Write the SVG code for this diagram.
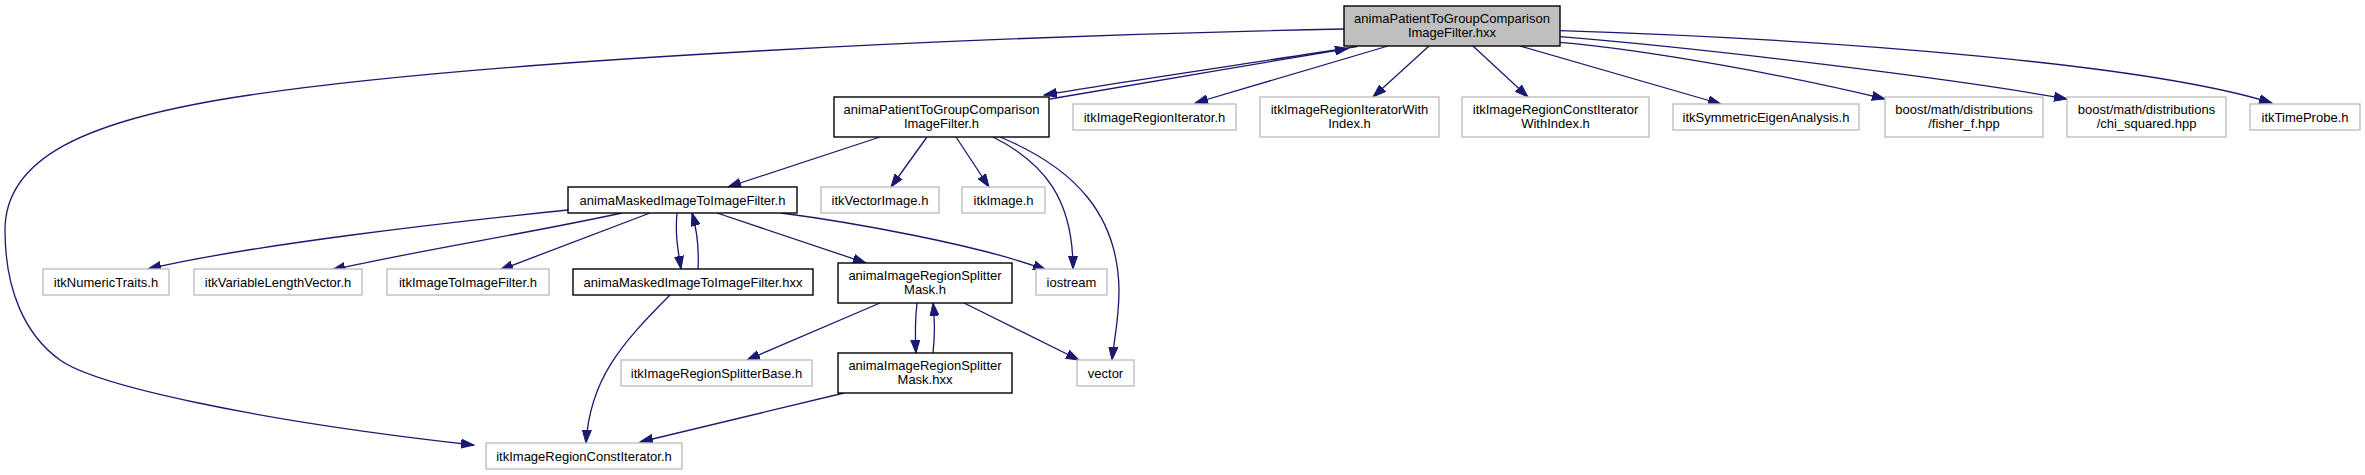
<svg xmlns="http://www.w3.org/2000/svg" width="2365" height="475" viewBox="0 0 2365 475">
<style>
.n rect{fill:#ffffff;stroke:#000000;stroke-width:1.4}
.x rect{fill:#ffffff;stroke:#bfbfbf;stroke-width:1.4}
.r rect{fill:#bfbfbf;stroke:#000000;stroke-width:1.4}
text{font-family:"Liberation Sans",Arial,sans-serif;font-size:13px;fill:#000000;text-anchor:middle}
#edges path{fill:none;stroke:#191970;stroke-width:1.3;marker-end:url(#a)}
</style>
<defs>
<marker id="a" markerWidth="14" markerHeight="10" refX="13" refY="5" orient="auto" markerUnits="userSpaceOnUse">
<path d="M0,0.5 L13,5 L0,9.5 z" fill="#191970" stroke="#191970" stroke-width="1"/>
</marker>
</defs>
<rect x="0" y="0" width="2365" height="475" fill="#ffffff"/>
<g id="edges">
<path d="M1357,46.5 C1260,62 1140,79 1044,95"/>
<path d="M1050,99 C1145,83 1250,65 1348,48.5"/>
<path d="M1388,46 L1195,103"/>
<path d="M1429,46 L1373,97"/>
<path d="M1473,46 L1528,97"/>
<path d="M1520,46 L1721,104"/>
<path d="M1560,42.3 C1650,50 1790,76 1885,99"/>
<path d="M1560,36.7 C1700,48 1950,78 2067,99"/>
<path d="M1560,30.7 C1850,40 2150,65 2272,103"/>
<path d="M1344,29 C1000,36 500,58 250,95 C80,120 5,160 5,230 C5,290 25,335 60,360 C95,385 250,420 474,445"/>
<path d="M880,137 L728,187"/>
<path d="M927,137 L891,187"/>
<path d="M956,137 L989,187"/>
<path d="M993,137 C1045,163 1073,200 1073,269"/>
<path d="M1000,137 C1075,168 1118,215 1119,290 C1119,320 1114,340 1112,360"/>
<path d="M568,210 C450,222 250,245 148,269"/>
<path d="M622,213 C520,235 420,250 332,270"/>
<path d="M650,213 L500,270"/>
<path d="M677,213 C675,235 678,250 681,269"/>
<path d="M698,269 C699,250 697,230 692,213"/>
<path d="M717,213 L866,263"/>
<path d="M781,213 C850,222 980,245 1046,270"/>
<path d="M670,295 C620,345 590,380 586,443"/>
<path d="M880,303 L747,360"/>
<path d="M917,303 C915,320 915,335 916,353"/>
<path d="M933,353 C935,335 935,320 933,303"/>
<path d="M964,303 L1079,360"/>
<path d="M844,393 L640,442"/>
</g>
<g id="root" class="r"><rect x="1344" y="6" width="216" height="40"/><text x="1452" y="22.5">animaPatientToGroupComparison</text><text x="1452" y="37.3">ImageFilter.hxx</text></g>
<g id="imagefilter_h" class="n"><rect x="834" y="97" width="215" height="40"/><text x="941.5" y="113.5">animaPatientToGroupComparison</text><text x="941.5" y="128.3">ImageFilter.h</text></g>
<g id="regioniterator" class="x"><rect x="1073" y="104" width="163" height="26"/><text x="1154.5" y="121.5">itkImageRegionIterator.h</text></g>
<g id="regioniteratorwithindex" class="x"><rect x="1260" y="97" width="179" height="40"/><text x="1349.5" y="113.5">itkImageRegionIteratorWith</text><text x="1349.5" y="128.3">Index.h</text></g>
<g id="regionconstiteratorwithindex" class="x"><rect x="1462" y="97" width="187" height="40"/><text x="1555.5" y="113.5">itkImageRegionConstIterator</text><text x="1555.5" y="128.3">WithIndex.h</text></g>
<g id="symmetric" class="x"><rect x="1673" y="104" width="186" height="26"/><text x="1766" y="121.5">itkSymmetricEigenAnalysis.h</text></g>
<g id="fisher" class="x"><rect x="1885" y="97" width="158" height="40"/><text x="1964" y="113.5">boost/math/distributions</text><text x="1964" y="128.3">/fisher_f.hpp</text></g>
<g id="chi" class="x"><rect x="2067" y="97" width="159" height="40"/><text x="2146.5" y="113.5">boost/math/distributions</text><text x="2146.5" y="128.3">/chi_squared.hpp</text></g>
<g id="timeprobe" class="x"><rect x="2250" y="104" width="110" height="26"/><text x="2305" y="121.5">itkTimeProbe.h</text></g>
<g id="masked_h" class="n"><rect x="568" y="187" width="229" height="26"/><text x="682.5" y="204.5">animaMaskedImageToImageFilter.h</text></g>
<g id="vectorimage" class="x"><rect x="821" y="187" width="118" height="26"/><text x="880" y="204.5">itkVectorImage.h</text></g>
<g id="image" class="x"><rect x="962" y="187" width="83" height="26"/><text x="1003.5" y="204.5">itkImage.h</text></g>
<g id="numerictraits" class="x"><rect x="43" y="269" width="126" height="26"/><text x="106" y="286.5">itkNumericTraits.h</text></g>
<g id="variablelengthvector" class="x"><rect x="194" y="269" width="168" height="26"/><text x="278" y="286.5">itkVariableLengthVector.h</text></g>
<g id="imagetoimagefilter" class="x"><rect x="387" y="269" width="162" height="26"/><text x="468" y="286.5">itkImageToImageFilter.h</text></g>
<g id="masked_hxx" class="n"><rect x="573" y="269" width="240" height="26"/><text x="693" y="286.5">animaMaskedImageToImageFilter.hxx</text></g>
<g id="splittermask_h" class="n"><rect x="838" y="263" width="174" height="40"/><text x="925" y="279.5">animaImageRegionSplitter</text><text x="925" y="294.3">Mask.h</text></g>
<g id="iostream" class="x"><rect x="1036" y="269" width="71" height="26"/><text x="1071.5" y="286.5">iostream</text></g>
<g id="splitterbase" class="x"><rect x="621" y="360" width="191" height="26"/><text x="716.5" y="377.5">itkImageRegionSplitterBase.h</text></g>
<g id="splittermask_hxx" class="n"><rect x="838" y="353" width="174" height="40"/><text x="925" y="369.5">animaImageRegionSplitter</text><text x="925" y="384.3">Mask.hxx</text></g>
<g id="vector" class="x"><rect x="1077" y="360" width="57" height="26"/><text x="1105.5" y="377.5">vector</text></g>
<g id="regionconstiterator" class="x"><rect x="486" y="443" width="196" height="26"/><text x="584" y="460.5">itkImageRegionConstIterator.h</text></g>
</svg>
